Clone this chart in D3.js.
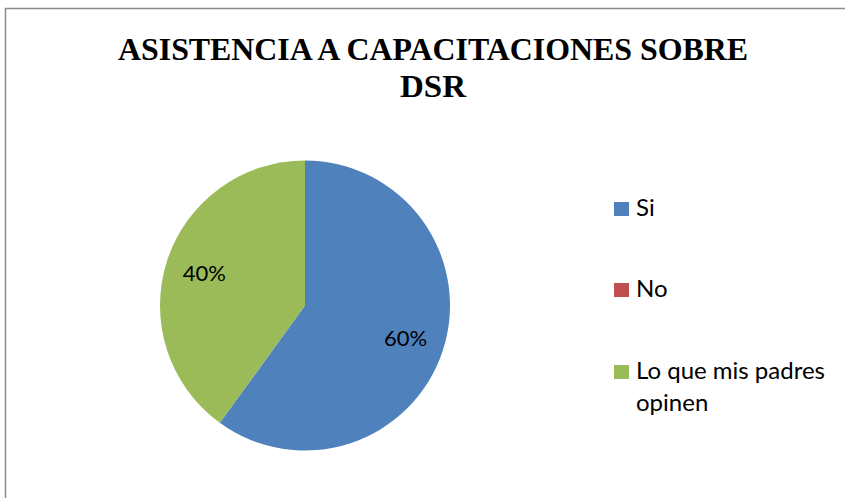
<!DOCTYPE html>
<html><head><meta charset="utf-8">
<script src="https://cdn.jsdelivr.net/npm/d3@7"></script>
<style>body{margin:0;background:#fff}svg{display:block}</style>
</head><body>
<svg id="c" width="845" height="498"></svg>
<script>
const categories = ["Si", "No", "Lo que mis padres opinen"];
const values = [60, 0, 40];
const labels = ["60%", "", "40%"];
const colors = ["#4F81BD", "#C0504D", "#9BBB59"];
const titleLines = ["ASISTENCIA A CAPACITACIONES SOBRE", "DSR"];
const legendLines = [["Si"], ["No"], ["Lo que mis padres", "opinen"]];

const svg = d3.select("#c");
svg.append("rect").attr("x", 5.5).attr("y", 8.5).attr("width", 900).attr("height", 600)
  .attr("fill", "#fff").attr("stroke", "#8c8c8c").attr("stroke-width", 1.5);

const title = svg.append("text").attr("font-family", "Liberation Serif, Times New Roman, serif")
  .attr("font-weight", "bold").attr("font-size", 32).attr("fill", "#000").attr("text-anchor", "middle");
title.append("tspan").attr("x", 433).attr("y", 60).attr("textLength", 630).attr("lengthAdjust", "spacingAndGlyphs").text(titleLines[0]);
title.append("tspan").attr("x", 433).attr("y", 97).attr("textLength", 66).attr("lengthAdjust", "spacingAndGlyphs").text(titleLines[1]);

const R = 145, cx = 305, cy = 305.5;
const pie = d3.pie().sort(null).value(d => d)(values);
const arc = d3.arc().innerRadius(0).outerRadius(R);
const labelArc = d3.arc().innerRadius(R * 0.73).outerRadius(R * 0.73);
const g = svg.append("g").attr("transform", `translate(${cx},${cy})`);
g.selectAll("path").data(pie).join("path").attr("d", arc).attr("fill", (d, i) => colors[i]);
g.selectAll("text").data(pie.filter(d => d.value > 0)).join("text")
  .attr("transform", d => `translate(${labelArc.centroid(d)})`)
  .attr("text-anchor", "middle").attr("dy", "0.36em")
  .attr("font-family", "Lato, Carlito, Calibri, sans-serif").attr("font-size", 22).attr("fill", "#000")
  .text(d => labels[d.index]);

const legendBase = [216, 297, 379];
const leg = svg.append("g");
categories.forEach((c, i) => {
  leg.append("rect").attr("x", 614).attr("y", legendBase[i] - 14).attr("width", 15).attr("height", 14).attr("fill", colors[i]);
  const t = leg.append("text").attr("font-family", "Lato, Carlito, Calibri, sans-serif").attr("font-size", 24).attr("fill", "#000");
  legendLines[i].forEach((line, j) => {
    t.append("tspan").attr("x", 636).attr("y", legendBase[i] + j * 32).text(line);
  });
});
</script>
</body></html>
